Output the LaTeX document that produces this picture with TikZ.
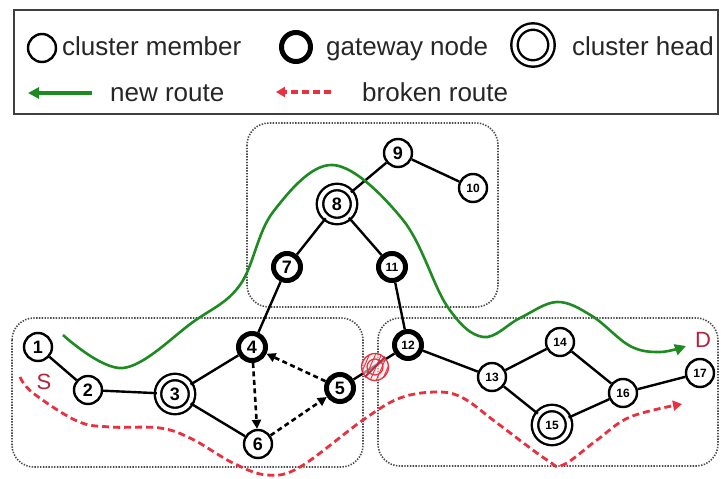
\documentclass[tikz,border=0pt]{standalone}
\usepackage{fontspec}
\setmainfont{Liberation Sans}
\usetikzlibrary{arrows.meta}
\definecolor{grn}{HTML}{1E8A22}
\definecolor{rd}{HTML}{E8303E}
\definecolor{drd}{HTML}{B5233F}
\tikzset{
 nd/.style={circle, draw, fill=white, inner sep=0pt, line width=2.4pt, minimum size=28pt, font=\bfseries\fontsize{18}{18}\selectfont},
 sm/.style={font=\bfseries\fontsize{12}{12}\selectfont},
 gw/.style={nd, line width=5pt, minimum size=27pt},
 ch/.style={nd, double, double distance=4pt, line width=2.4pt, minimum size=34pt},
 edge/.style={line width=2.4pt},
 dar/.style={line width=2.6pt, dash pattern=on 5pt off 3.5pt, -{Triangle[length=9pt,width=9pt]}},
 clus/.style={draw=black!70, line width=1.6pt, dash pattern=on 1.4pt off 1.4pt, rounded corners=22pt},
 legtxt/.style={anchor=base west, font=\fontsize{26}{26}\selectfont, inner sep=0pt, text=black!85},
 lbl/.style={text=drd, font=\fontsize{22}{22}\selectfont, inner sep=0pt},
 newroute/.style={grn, line width=2.6pt, -{Triangle[length=11pt,width=11pt]}},
 brokenroute/.style={rd, line width=2.8pt, dash pattern=on 7pt off 4pt, -{Triangle[length=9pt,width=10pt]}}
}
\begin{document}
\begin{tikzpicture}[x=1pt,y=-1pt]
\useasboundingbox (0,0) rectangle (721,479);
\fill[white] (0,0) rectangle (721,479);
% legend
\draw[black!75, line width=2pt] (14,10) rectangle (718,114);
\node[nd, minimum size=28pt] (lm) at (42,48) {};
\node[legtxt] (lt1) at (62,56) {cluster member};
\node[gw, minimum size=29pt] (lg) at (296,47) {};
\node[legtxt] (lt2) at (326,55) {gateway node};
\node[ch, minimum size=37pt] (lh) at (533,45) {};
\node[legtxt] (lt3) at (572,55) {cluster head};
\coordinate (g1) at (92,93);
\coordinate (g2) at (28,93);
\draw[newroute, line width=3.5pt] (g1) -- (g2);
\node[legtxt] (lt4) at (110,101) {new route};
\coordinate (r1) at (331,92);
\coordinate (r2) at (276,92);
\draw[brokenroute, line width=3.5pt] (r1) -- (r2);
\node[legtxt] (lt5) at (362,101) {broken route};
% clusters
\draw[clus] (247,123) rectangle (498,307);
\draw[clus] (12,318) rectangle (363,467);
\draw[clus] (378,318) rectangle (718,466);
% nodes
\node[nd] (n1) at (38,347) {1};
\node[nd] (n2) at (88,390) {2};
\node[ch] (n3) at (175,394) {3};
\node[gw] (n4) at (252,347) {4};
\node[gw] (n5) at (340,388) {5};
\node[nd] (n6) at (258,444) {6};
\node[gw] (n7) at (287,267) {7};
\node[ch] (n8) at (337,204) {8};
\node[nd] (n9) at (398,153) {9};
\node[nd,sm] (n10) at (473,188) {10};
\node[gw,sm] (n11) at (392,267) {11};
\node[gw,sm] (n12) at (408,345) {12};
\node[nd,sm] (n13) at (492,377) {13};
\node[nd,sm] (n14) at (560,342) {14};
\node[ch,sm] (n15) at (552,425) {15};
\node[nd,sm] (n16) at (623,393) {16};
\node[nd,sm] (n17) at (700,373) {17};
% edges
\draw[edge] (n1) -- (n2);
\draw[edge] (n2) -- (n3);
\draw[edge] (n3) -- (n4);
\draw[edge] (n3) -- (n6);
\draw[edge] (n4) -- (n7);
\draw[edge] (n7) -- (n8);
\draw[edge] (n8) -- (n9);
\draw[edge] (n9) -- (n10);
\draw[edge] (n8) -- (n11);
\draw[edge] (n11) -- (n12);
\draw[edge] (n5) -- (n12);
\draw[edge] (n12) -- (n13);
\draw[edge] (n13) -- (n14);
\draw[edge] (n13) -- (n15);
\draw[edge] (n14) -- (n16);
\draw[edge] (n15) -- (n16);
\draw[edge] (n16) -- (n17);
% broken link symbol
\node[circle, draw=rd, line width=1.3pt, minimum size=27pt, inner sep=0pt, fill=rd!12, fill opacity=0.6,
  path picture={
   \foreach \i in {-24,-18,...,24}{
     \draw[rd, line width=0.9pt] ([xshift=\i pt, yshift=-16pt]path picture bounding box.center) -- ++(14pt,32pt);
   }
  }] (brk) at (375,367) {};
\node[circle, draw=rd, line width=1.2pt, minimum size=16pt, inner sep=0pt] (brk2) at (brk.center) {};
\draw[drd, line width=1.6pt] (brk.south west) -- (brk.north east);
% dashed arrows
\draw[dar] (n5) -- (n4);
\draw[dar] (n4) -- (n6);
\draw[dar] (n6) -- (n5);
% routes
\draw[grn, line width=2.6pt, -{Triangle[length=11pt,width=11pt]}] plot[smooth, tension=0.6] coordinates {
 (63,335) (123,368) (193,322) (240,285) (273,212) (333,165) (403,220) (447,306) (483,337) (520,318) (557,302) (592,316) (630,346) (660,352) (686,346)};
\draw[rd, line width=2.8pt, dash pattern=on 7pt off 4pt, -{Triangle[length=9pt,width=10pt]}] plot[smooth, tension=0.6] coordinates {
 (20,377) (33,393) (77,421) (110,427) (160,428) (192,439) (233,463) (267,475) (300,467) (363,420) (400,398) (437,392) (463,398) (497,423) (547,460) (563,465) (597,440) (630,417) (682,404)};
\node[lbl] (S) at (44,382) {S};
\node[lbl] (D) at (703,340) {D};
\end{tikzpicture}
\end{document}
